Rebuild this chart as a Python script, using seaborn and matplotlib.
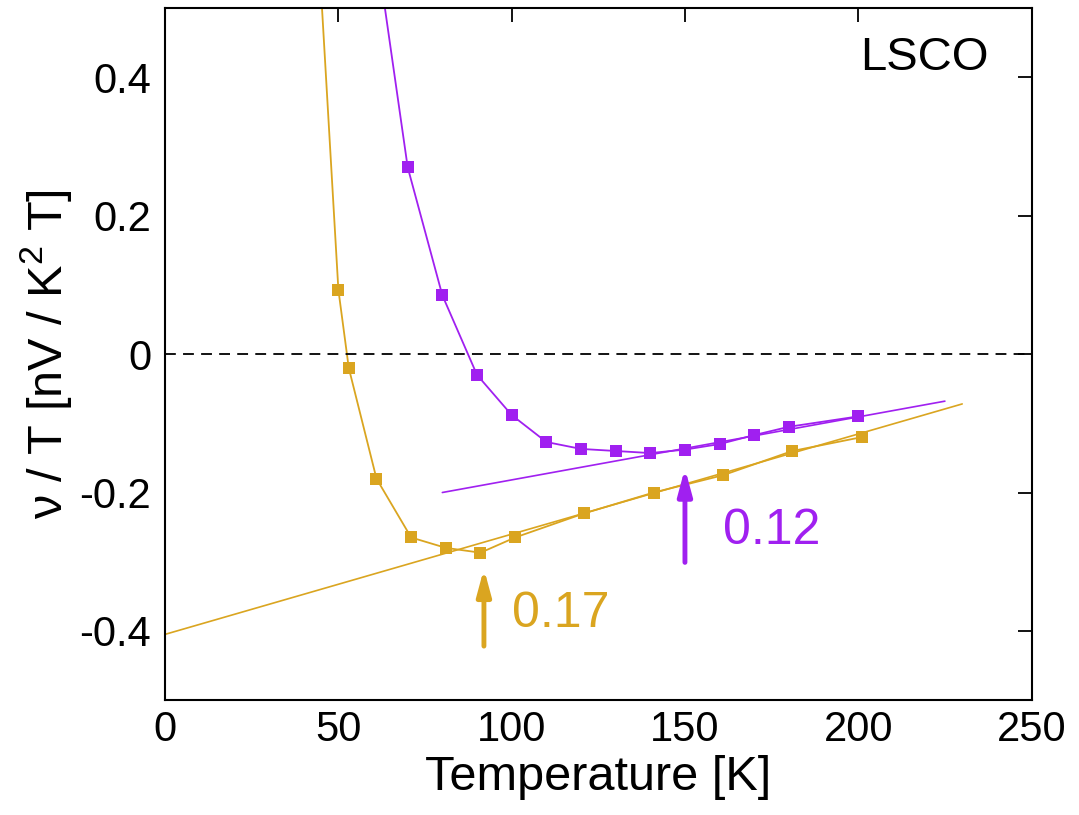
"""
Nernst coefficient nu/T vs temperature for LSCO (p = 0.12 and p = 0.17).
"""
import numpy as np
import pandas as pd
import seaborn as sns
from matplotlib import pyplot as plt

# p = 0.17 data (gold); first point sits above the frame
T_017 = [44, 50, 53, 61, 71, 81, 91, 101, 121, 141, 161, 181, 201]
nu_017 = [0.61, 0.093, -0.02, -0.18, -0.265, -0.28, -0.287, -0.265,
          -0.23, -0.20, -0.175, -0.14, -0.12]

# p = 0.12 data (purple); first point sits above the frame
T_012 = [60, 70, 80, 90, 100, 110, 120, 130, 140, 150, 160, 170, 180, 200]
nu_012 = [0.62, 0.27, 0.085, -0.03, -0.088, -0.127, -0.137, -0.14,
          -0.143, -0.138, -0.13, -0.117, -0.105, -0.09]

# linear fits (end points)
fit_T_017 = [0, 230]
fit_nu_017 = [-0.405, -0.072]
fit_T_012 = [80, 225]
fit_nu_012 = [-0.20, -0.068]

# onset arrows: x, tail, tip
arrow_017 = (92, -0.422, -0.31)
arrow_012 = (150, -0.301, -0.165)

GOLD = "#DAA520"
PURPLE = "#A020F0"

sns.set_theme(style="white")
plt.rcParams['font.family'] = ['Liberation Sans', 'DejaVu Sans']
plt.rcParams['mathtext.fontset'] = 'custom'
plt.rcParams['mathtext.rm'] = 'Liberation Sans'
plt.rcParams['mathtext.default'] = 'regular'
plt.rcParams['text.color'] = 'black'
plt.rcParams['axes.labelcolor'] = 'black'

fig = plt.figure(figsize=(10.79, 8.15), dpi=100)
ax = fig.add_axes([0.153, 0.141, 0.803, 0.849])

df17 = pd.DataFrame({'T': T_017, 'nu': nu_017})
df12 = pd.DataFrame({'T': T_012, 'nu': nu_012})

sns.lineplot(data=df17, x='T', y='nu', ax=ax, color=GOLD, lw=1.3,
             marker='s', markersize=9, markeredgewidth=0, estimator=None)
sns.lineplot(data=df12, x='T', y='nu', ax=ax, color=PURPLE, lw=1.3,
             marker='s', markersize=9, markeredgewidth=0, estimator=None)

sns.lineplot(x=fit_T_017, y=fit_nu_017, ax=ax, color=GOLD, lw=1.2, estimator=None)
sns.lineplot(x=fit_T_012, y=fit_nu_012, ax=ax, color=PURPLE, lw=1.2, estimator=None)

ax.axhline(0, color='black', lw=1.3, ls=(0, (6, 4)))

for (x, y0, y1), c in [(arrow_017, GOLD), (arrow_012, PURPLE)]:
    ax.annotate('', xy=(x, y1), xytext=(x, y0),
                arrowprops=dict(arrowstyle='-|>,head_width=0.35,head_length=1.3',
                                lw=3.5, color=c, shrinkA=0, shrinkB=0))

ax.text(100, -0.375, '0.17', color=GOLD, fontsize=36, ha='left', va='center')
ax.text(161, -0.255, '0.12', color=PURPLE, fontsize=36, ha='left', va='center')
ax.text(0.95, 0.928, 'LSCO', transform=ax.transAxes, fontsize=34,
        ha='right', va='center', color='black')

ax.set_xlim(0, 250)
ax.set_ylim(-0.5, 0.5)
ax.set_xticks([0, 50, 100, 150, 200, 250])
ax.set_yticks([-0.4, -0.2, 0, 0.2, 0.4])
ax.set_yticklabels(['-0.4', '-0.2', '0', '0.2', '0.4'])
ax.tick_params(direction='in', length=10, width=1.3, labelsize=30,
               top=True, right=True, colors='black')
ax.tick_params(axis='x', pad=7)
ax.tick_params(axis='y', pad=10)
for s in ax.spines.values():
    s.set_color('black')
    s.set_linewidth(1.5)

ax.set_xlabel('Temperature [K]', fontsize=35, labelpad=4)
ax.set_ylabel('ν / T [nV / K$^{2}$ T]', fontsize=35, labelpad=4)

fig.savefig('out.png', dpi=100)
